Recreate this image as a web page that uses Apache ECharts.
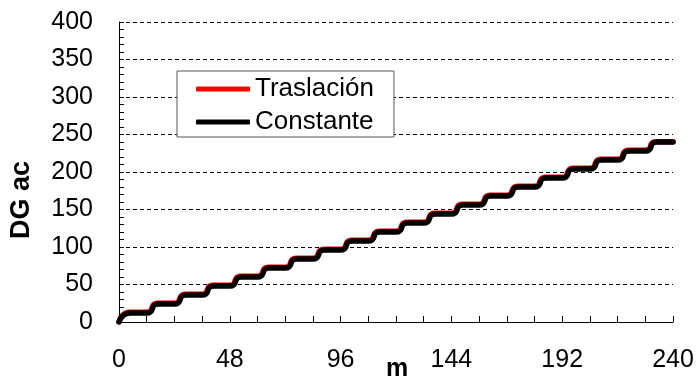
<!DOCTYPE html>
<html>
<head>
<meta charset="utf-8">
<script src="https://cdn.jsdelivr.net/npm/echarts@6/dist/echarts.min.js"></script>
<style>
  html, body { margin: 0; padding: 0; background: #fff; }
  #chart { width: 697px; height: 378px; }
</style>
</head>
<body>
<div id="chart"></div>
<script>
// Accumulated DG along m: a stepped rise every 12 m
const constanteX = [0, 5, 12, 17, 24, 29, 36, 41, 48, 53, 60, 65, 72, 77, 84, 89, 96, 101, 108, 113,
  120, 125, 132, 137, 144, 149, 156, 161, 168, 173, 180, 185, 192, 197, 204, 209, 216, 221, 228, 233, 240];
const constanteY = [0, 12, 12, 24, 24, 36, 36, 48, 48, 60, 60, 72, 72, 84, 84, 96, 96, 108, 108, 120,
  120, 132, 132, 144, 144, 156, 156, 168, 168, 180, 180, 192, 192, 204, 204, 216, 216, 228, 228, 240, 240];
const traslacionX = [0, 4.6, 12, 16.6, 24, 28.6, 36, 40.6, 48, 52.6, 60, 64.6, 72, 76.6, 84, 88.6, 96, 100.6, 108, 112.6,
  120, 124.6, 132, 136.6, 144, 148.6, 156, 160.6, 168, 172.6, 180, 184.6, 192, 196.6, 204, 208.6, 216, 220.6, 228, 232.6, 240];
const traslacionY = [0, 13, 13, 25, 25, 37, 37, 49, 49, 61, 61, 73, 73, 85, 85, 97, 97, 109, 109, 121,
  121, 133, 133, 145, 145, 157, 157, 169, 169, 181, 181, 193, 193, 205, 205, 217, 217, 229, 229, 240.5, 240.5];

const xTicks = [0, 48, 96, 144, 192, 240];
const yTicks = [0, 50, 100, 150, 200, 250, 300, 350, 400];

const pairs = (xs, ys) => xs.map((x, i) => [x, ys[i]]);

const font = 'Liberation Sans, Arial, sans-serif';
const chart = echarts.init(document.getElementById('chart'));
chart.setOption({
  animation: false,
  backgroundColor: '#fff',
  grid: { left: 119, right: 24, top: 22, bottom: 56 },
  xAxis: {
    type: 'value',
    min: xTicks[0],
    max: xTicks[xTicks.length - 1],
    interval: 48,
    axisLine: { lineStyle: { color: '#000', width: 1 } },
    axisTick: { inside: true, length: 6, lineStyle: { color: '#000' } },
    minorTick: { show: true, splitNumber: 4, length: 6, lineStyle: { color: '#000' } },
    axisLabel: { color: '#000', fontSize: 25, fontFamily: font, margin: 26, lineHeight: 25 },
    splitLine: { show: false }
  },
  yAxis: {
    type: 'value',
    min: yTicks[0],
    max: yTicks[yTicks.length - 1],
    interval: 50,
    axisLine: { show: true, lineStyle: { color: '#000', width: 1 } },
    axisTick: { inside: true, length: 5, lineStyle: { color: '#000' } },
    minorTick: { show: true, splitNumber: 5, length: 5, lineStyle: { color: '#000' } },
    axisLabel: { color: '#000', fontSize: 25, fontFamily: font, margin: 26 },
    splitLine: { show: true, lineStyle: { color: '#000', type: [4, 3], width: 1 } }
  },
  legend: {
    orient: 'vertical',
    left: 177,
    top: 71,
    padding: [5, 20, 2, 19],
    itemGap: 7,
    itemWidth: 54,
    itemHeight: 5,
    backgroundColor: '#fff',
    borderColor: '#555',
    borderWidth: 1,
    borderRadius: 0,
    textStyle: { color: '#000', fontSize: 26, fontFamily: font, lineHeight: 26 },
    data: [
      { name: 'Traslación', icon: 'roundRect' },
      { name: 'Constante', icon: 'roundRect' }
    ]
  },
  graphic: [
    {
      type: 'text',
      rotation: Math.PI / 2,
      x: 22, y: 200,
      style: { text: 'DG ac', fill: '#000', font: 'bold 27px ' + font, textAlign: 'center', textVerticalAlign: 'middle' }
    },
    {
      type: 'text',
      x: 397, y: 369,
      style: { text: 'm', fill: '#000', font: 'bold 25px ' + font, textAlign: 'center', textVerticalAlign: 'middle' }
    }
  ],
  series: [
    {
      name: 'Traslación',
      type: 'line',
      data: pairs(traslacionX, traslacionY),
      smooth: 0.8,
      smoothMonotone: 'x',
      showSymbol: false,
      color: '#ff0000',
      lineStyle: { color: '#ff0000', width: 5.5, cap: 'round', join: 'round' },
      z: 2
    },
    {
      name: 'Constante',
      type: 'line',
      data: pairs(constanteX, constanteY),
      smooth: 0.8,
      smoothMonotone: 'x',
      showSymbol: false,
      color: '#000',
      lineStyle: { color: '#000', width: 5.5, cap: 'round', join: 'round' },
      z: 3
    }
  ]
});
</script>
</body>
</html>
